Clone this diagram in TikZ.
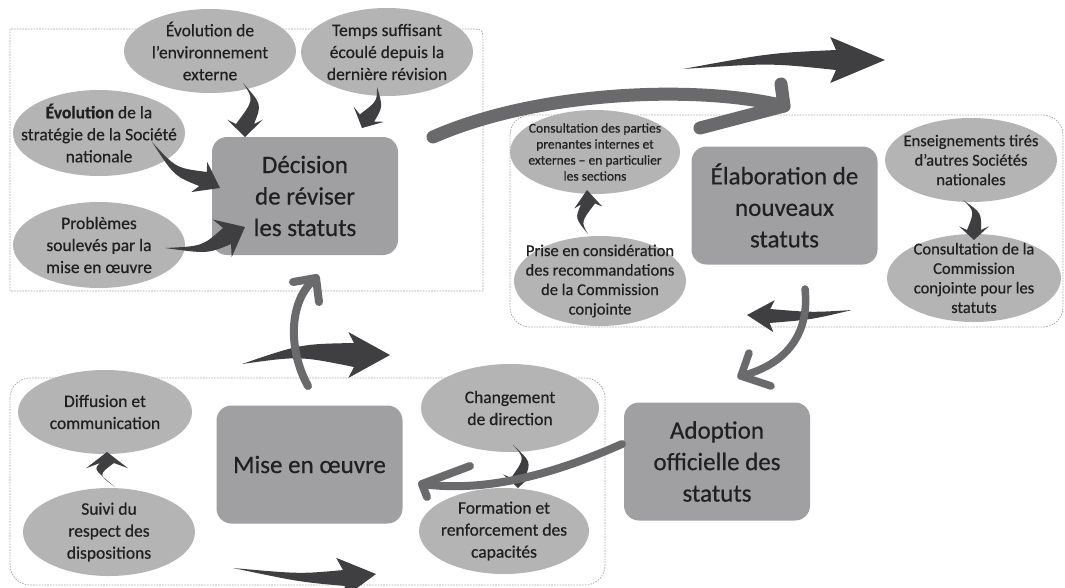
\documentclass[tikz,border=0pt]{standalone}
\usepackage{fontspec}
\setmainfont{Carlito}[FakeBold=0.5]
\usetikzlibrary{calc}
\definecolor{boxfill}{HTML}{A0A0A2}
\definecolor{bubfill}{HTML}{B4B4B4}
\definecolor{darkfill}{HTML}{3F3F41}
\definecolor{lineclr}{HTML}{6A6A6D}
\definecolor{grpclr}{HTML}{A8A8A8}
\definecolor{txt}{HTML}{202020}
\tikzset{
  group/.style={draw=grpclr, line width=0.7pt, dash pattern=on 1.6pt off 1.2pt},
  mainbox/.style={rectangle, rounded corners=15pt, fill=boxfill, minimum width=186pt, minimum height=118pt, inner sep=0pt, align=center, text=txt, font=\fontsize{25}{31.5}\selectfont},
  bubtext/.style={inner sep=0pt, align=center, text=txt, font=\fontsize{17.5}{22}\selectfont},
  smalltext/.style={bubtext, font=\fontsize{13.5}{16}\selectfont},
  midtext/.style={bubtext, font=\fontsize{16.5}{19.5}\selectfont},
  grayarrow/.style={draw=lineclr, line cap=round, line join=round},
}
% #1 name, #2 centre, #3 x radius, #4 y radius, #5 style, #6 text
\newcommand\bubblenode[6]{%
  \fill[bubfill] (#2) ellipse [x radius=#3, y radius=#4];
  \node[#5] (#1) at (#2) {#6};}
% #1 tail, #2 control, #3 head base, #4 tip, #5 body half width, #6 head half width
\newcommand\taperarrow[6]{%
  \fill[darkfill] (#1)
    .. controls ($(#2)!#5*0.5!90:(#3)$) .. ($(#3)!#5!90:(#4)$)
    -- ($($(#3)!-#6*0.25!(#4)$)!#6!90:(#4)$) -- (#4)
    -- ($($(#3)!-#6*0.25!(#4)$)!#6!-90:(#4)$)
    -- ($(#3)!#5!-90:(#4)$)
    .. controls ($(#2)!#5*0.5!-90:(#3)$) .. (#1) -- cycle;}
\begin{document}
\begin{tikzpicture}[x=1pt, y=-1pt]
\useasboundingbox (0,0) rectangle (1065,587);
\fill[white] (0,0) rectangle (1065,587);

% group frames
\draw[group] (10,291) -- (10,29) -- (469,29) .. controls (483,29) .. (483,43) -- (483,291) -- cycle;
\draw[group, rounded corners=20pt] (510,115) rectangle (1063,327);
\draw[group, rounded corners=20pt] (10,378) rectangle (605,585);

% bubbles
\bubblenode{env}{210,51}{86}{42}{bubtext}{Évolution de\\l’environnement\\externe}
\bubblenode{tps}{387,52}{86}{44}{bubtext}{Temps suffisant\\écoulé depuis la\\dernière révision}
\bubblenode{strat}{99,133}{86}{43}{bubtext}{\textbf{Évolution} de la\\stratégie de la Société\\nationale}
\bubblenode{prob}{99,245}{86}{43}{bubtext}{Problèmes\\soulevés par la\\mise en œuvre}

\bubblenode{consp}{595,152}{85}{42}{smalltext}{Consultation des parties\\prenantes internes et\\externes – en particulier\\les sections}
\bubblenode{prise}{600,281}{86}{45}{midtext}{Prise en considération\\des recommandations\\de la Commission\\conjointe}
\bubblenode{ens}{971,160}{86}{42}{midtext}{Enseignements tirés\\d’autres Sociétés\\nationales}
\bubblenode{consc}{974,278}{87}{44}{midtext}{Consultation de la\\Commission\\conjointe pour les\\statuts}

\bubblenode{diff}{105,412}{87}{42}{bubtext}{Diffusion et\\communication}
\bubblenode{suivi}{109,532}{86}{44}{bubtext}{Suivi du\\respect des\\dispositions}
\bubblenode{chg}{510,408}{89}{44}{bubtext}{Changement\\de direction}
\bubblenode{form}{504,531}{85}{43}{bubtext}{Formation et\\renforcement des\\capacités}

% main boxes
\node[mainbox] (dec) at (305,196) {Décision\\de réviser\\les statuts};
\node[mainbox] (elab) at (784.5,205.5) {Élaboration de\\nouveaux\\statuts};
\node[mainbox] (adop) at (717,461.5) {Adoption\\officielle des\\statuts};
\node[mainbox] (mise) at (309.5,464.5) {Mise en œuvre};

% dark arrow coordinates
\coordinate (a1t) at (243,83);  \coordinate (a1c) at (258,102); \coordinate (a1b) at (245,124); \coordinate (a1p) at (245,137);
\coordinate (a2t) at (377,87);  \coordinate (a2c) at (380,104); \coordinate (a2b) at (367,118); \coordinate (a2p) at (362,128);
\coordinate (a3t) at (152,142); \coordinate (a3c) at (175,172); \coordinate (a3b) at (203,179); \coordinate (a3p) at (220,188);
\coordinate (a4t) at (165,248); \coordinate (a4c) at (205,250); \coordinate (a4b) at (227,236); \coordinate (a4p) at (245,227);
\coordinate (a5t) at (683,69);  \coordinate (a5c) at (770,58);  \coordinate (a5b) at (836,60);  \coordinate (a5p) at (885,60);
\coordinate (a6t) at (852,310); \coordinate (a6c) at (812,316); \coordinate (a6b) at (770,316); \coordinate (a6p) at (747,315);
\coordinate (a7t) at (513,445); \coordinate (a7c) at (528,460); \coordinate (a7b) at (518,478); \coordinate (a7p) at (518,488);
\coordinate (a8t) at (115,487); \coordinate (a8c) at (96,472);  \coordinate (a8b) at (107,463); \coordinate (a8p) at (107,452);
\coordinate (a9t) at (242,364); \coordinate (a9c) at (300,350); \coordinate (a9b) at (354,355); \coordinate (a9p) at (390,355);
\coordinate (a10t) at (233,568); \coordinate (a10c) at (300,578); \coordinate (a10b) at (344,578); \coordinate (a10p) at (376,574);
\coordinate (a11t) at (588,234); \coordinate (a11c) at (578,220); \coordinate (a11b) at (588,204); \coordinate (a11p) at (587,190);
\coordinate (a12t) at (963,200); \coordinate (a12c) at (978,212); \coordinate (a12b) at (974,230); \coordinate (a12p) at (974,240);

\taperarrow{a1t}{a1c}{a1b}{a1p}{9pt}{18pt}
\taperarrow{a2t}{a2c}{a2b}{a2p}{8pt}{17pt}
\taperarrow{a3t}{a3c}{a3b}{a3p}{8pt}{17pt}
\taperarrow{a4t}{a4c}{a4b}{a4p}{9pt}{21pt}
\taperarrow{a5t}{a5c}{a5b}{a5p}{10pt}{23pt}
\taperarrow{a6t}{a6c}{a6b}{a6p}{7pt}{16pt}
\taperarrow{a7t}{a7c}{a7b}{a7p}{7pt}{15pt}
\taperarrow{a8t}{a8c}{a8b}{a8p}{7pt}{21pt}
\taperarrow{a9t}{a9c}{a9b}{a9p}{12pt}{23pt}
\taperarrow{a10t}{a10c}{a10b}{a10p}{8pt}{21pt}
\taperarrow{a11t}{a11c}{a11b}{a11p}{7pt}{14pt}
\taperarrow{a12t}{a12c}{a12b}{a12p}{7pt}{15pt}

% grey line arrows between the stages
\coordinate (g1s) at (433,137); \coordinate (g1p) at (784,106);
\coordinate (g1u) at (781,84);  \coordinate (g1l) at (700,128);
\draw[grayarrow, line width=13pt] (g1s) .. controls (540,90) and (700,85) .. (g1p);
\draw[grayarrow, line width=13pt] (g1u) -- (g1p) -- (g1l);

\coordinate (g2s) at (805,289); \coordinate (g2p) at (741,376);
\coordinate (g2u) at (749,353); \coordinate (g2r) at (771,386);
\draw[grayarrow, line width=7.5pt] (g2s) .. controls (810,335) and (785,365) .. (g2p);
\draw[grayarrow, line width=7.5pt] (g2u) -- (g2p) -- (g2r);

\coordinate (g3s) at (622,444); \coordinate (g3p) at (422,484);
\coordinate (g3u) at (470,466); \coordinate (g3d) at (427,497);
\draw[grayarrow, line width=8pt] (g3s) .. controls (545,478) and (480,492) .. (g3p);
\draw[grayarrow, line width=8pt] (g3u) -- (g3p) -- (g3d);

\coordinate (g4s) at (308,386); \coordinate (g4p) at (316,278);
\coordinate (g4l) at (293,282); \coordinate (g4d) at (319,302);
\draw[grayarrow, line width=8pt] (g4s) .. controls (288,350) and (288,300) .. (g4p);
\draw[grayarrow, line width=8pt] (g4l) -- (g4p) -- (g4d);
\end{tikzpicture}
\end{document}
